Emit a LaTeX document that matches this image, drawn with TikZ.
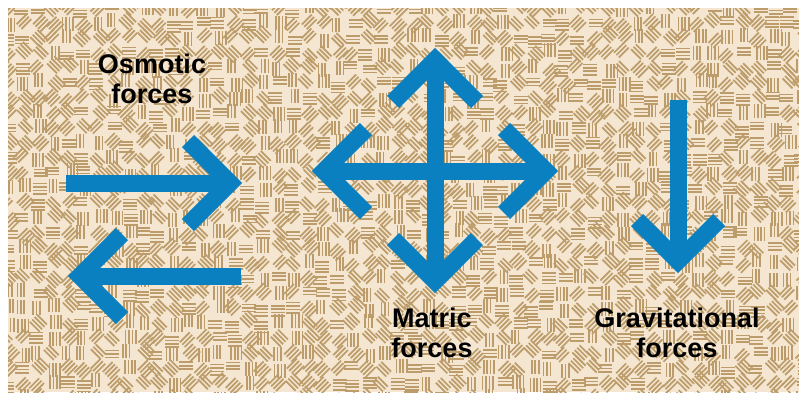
\documentclass[tikz,border=0pt]{standalone}
\usepackage{fontspec}
\setmainfont{Liberation Sans}
\usetikzlibrary{calc}
\definecolor{soilbg}{RGB}{244,230,208}
\definecolor{soilgrain}{RGB}{188,156,106}
\definecolor{forceblue}{RGB}{10,128,192}

\tikzset{
  force/.style={draw=forceblue, line width=17pt, line join=miter, line cap=butt},
  grain/.style={draw=soilgrain, line width=1.7pt},
  forcelabel/.style={font=\bfseries\fontsize{27}{30}\selectfont, align=center, text=black}
}

\begin{document}
\begin{tikzpicture}[x=1pt, y=-1pt]
  \useasboundingbox (0,0) rectangle (799,392);
  % soil background
  \begin{scope}
    \clip (8,8) rectangle (799,392);
    \fill[soilbg] (8,8) rectangle (799,392);
    \pgfmathsetseed{4213}
    \foreach \i in {0,...,53} {
      \foreach \j in {0,...,26} {
        \pgfmathrandominteger{\ang}{0}{3}
        \pgfmathrandominteger{\extra}{0}{1}
        \pgfmathsetmacro{\rot}{45*\ang}
        \pgfmathsetmacro{\dx}{3*rand}
        \pgfmathsetmacro{\dy}{3*rand}
        \begin{scope}[shift={(15*\i+8+\dx, 15*\j+8+\dy)}, rotate=\rot]
          \draw[grain] (-7,-3.4) -- (7,-3.4) (-7,0) -- (7,0)
                       (-7,3.4) -- (7,3.4);
          \ifnum\extra=1 \draw[grain] (-7,6.8) -- (7,6.8); \fi
        \end{scope}
      }
    }
  \end{scope}

  % osmotic
  \draw[force] (66,183) -- (230,183);
  \draw[force] (188,141) -- (230,183) -- (188,225);
  \draw[force] (241,276) -- (80,276);
  \draw[force] (122,234) -- (80,276) -- (122,318);

  % matric
  \draw[force] (324,171) -- (546,171);
  \draw[force] (435,60) -- (435,281);
  \draw[force] (393,102) -- (435,60) -- (477,102);
  \draw[force] (393,239) -- (435,281) -- (477,239);
  \draw[force] (366,129) -- (324,171) -- (366,213);
  \draw[force] (504,129) -- (546,171) -- (504,213);

  % gravitational
  \draw[force] (678,100) -- (678,261);
  \draw[force] (637,220) -- (678,261) -- (719,220);

  \node[forcelabel] (osmotic) at (152,79) {Osmotic\\forces};
  \node[forcelabel] (matric) at (432,333) {Matric\\forces};
  \node[forcelabel] (gravity) at (677,333) {Gravitational\\forces};
\end{tikzpicture}
\end{document}
